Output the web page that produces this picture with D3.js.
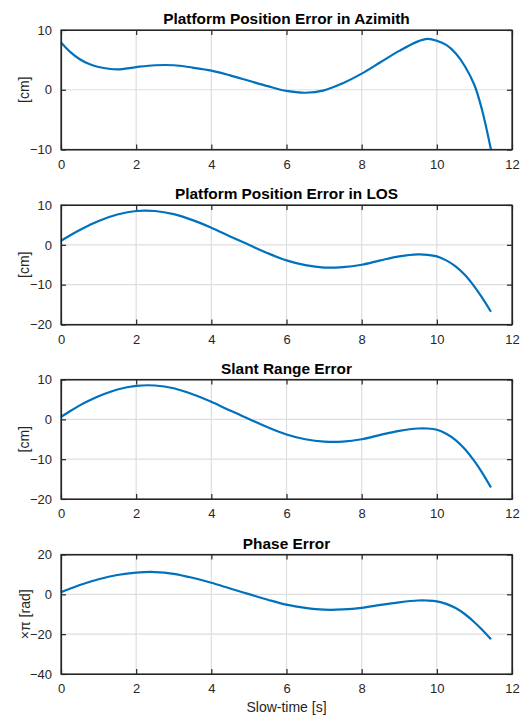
<!DOCTYPE html>
<html>
<head>
<meta charset="utf-8">
<script src="https://cdn.jsdelivr.net/npm/d3@7"></script>
<style>
  html, body { margin: 0; padding: 0; background: #fff; }
  svg { display: block; font-family: "Liberation Sans", Arial, Helvetica, sans-serif; }
</style>
</head>
<body>
<svg id="chart" width="524" height="715"></svg>
<script>
// ---- data ----
const time = [0, 0.25, 0.5, 0.75, 1, 1.5, 2, 2.5, 3, 3.5, 4, 4.5, 5, 5.5, 6, 6.5, 7, 7.5, 8, 8.5, 9, 9.5, 9.75, 10, 10.25, 10.5, 10.75, 11, 11.2, 11.44];
const azimuthError = [7.9, 6.3, 5.1, 4.3, 3.8, 3.4, 3.8, 4.1, 4.1, 3.7, 3.2, 2.4, 1.5, 0.6, -0.2, -0.5, -0.1, 1.1, 2.7, 4.6, 6.5, 8.1, 8.5, 8.2, 7.5, 6.1, 3.9, 0.8, -3.3, -10];
const losError = [1.0, 2.4, 3.7, 4.9, 6.0, 7.6, 8.5, 8.5, 7.7, 6.2, 4.3, 2.1, 0.0, -2.1, -3.9, -5.1, -5.7, -5.6, -5.0, -3.9, -2.9, -2.4, -2.5, -2.9, -3.9, -5.4, -7.6, -10.5, -13.2, -16.8];
const slantError = [0.6, 2.1, 3.5, 4.7, 5.8, 7.5, 8.4, 8.5, 7.8, 6.3, 4.4, 2.2, 0.1, -2.0, -3.8, -5.0, -5.6, -5.6, -5.0, -3.9, -2.9, -2.3, -2.3, -2.6, -3.6, -5.2, -7.5, -10.5, -13.3, -17.1];
const phaseError = [1.0, 2.9, 4.7, 6.2, 7.6, 9.7, 10.9, 11.2, 10.3, 8.3, 5.8, 2.9, 0.1, -2.7, -5.2, -6.8, -7.7, -7.6, -6.8, -5.3, -4.0, -3.1, -3.1, -3.5, -4.8, -6.9, -10.0, -14.0, -17.7, -22.6];

const titles = ["Platform Position Error in Azimith", "Platform Position Error in LOS", "Slant Range Error", "Phase Error"];
const yLabels = ["[cm]", "[cm]", "[cm]", "×π [rad]"];
const yDomains = [[-10, 10], [-20, 10], [-20, 10], [-40, 20]];
const yTickValues = [[-10, 0, 10], [-20, -10, 0, 10], [-20, -10, 0, 10], [-40, -20, 0, 20]];
const xTickValues = [0, 2, 4, 6, 8, 10, 12];
const xLabel = "Slow-time [s]";
const series = [azimuthError, losError, slantError, phaseError];

// ---- layout ----
const svg = d3.select("#chart");
const left = 61, right = 512;
const tops = [30, 205, 379.5, 554.5];
const h = 119.5;
const ink = "#262626";
const gridColor = "#dedede";
const lineColor = "#0072BD";

const x = d3.scaleLinear().domain([0, 12]).range([left, right]);

series.forEach((vals, i) => {
  const top = tops[i];
  const y = d3.scaleLinear().domain(yDomains[i]).range([top + h, top]);
  const g = svg.append("g");

  // grid
  g.selectAll(".vg").data(xTickValues.slice(1, -1)).enter().append("line")
    .attr("x1", d => x(d)).attr("x2", d => x(d))
    .attr("y1", top).attr("y2", top + h)
    .attr("stroke", gridColor).attr("stroke-width", 1.2);
  g.selectAll(".hg").data(yTickValues[i].slice(1, -1)).enter().append("line")
    .attr("x1", left).attr("x2", right)
    .attr("y1", d => y(d)).attr("y2", d => y(d))
    .attr("stroke", gridColor).attr("stroke-width", 1.2);

  // curve
  const pts = time.map((t, k) => [t, vals[k]]);
  g.append("path").datum(pts)
    .attr("fill", "none").attr("stroke", lineColor).attr("stroke-width", 2.2)
    .attr("stroke-linejoin", "round")
    .attr("d", d3.line().x(d => x(d[0])).y(d => y(d[1])).curve(d3.curveCatmullRom.alpha(0.5)));

  // axes (ticks inward)
  const xb = g.append("g").attr("transform", `translate(0,${top + h})`)
    .call(d3.axisBottom(x).tickValues(xTickValues).tickSizeInner(-5).tickSizeOuter(0).tickPadding(10).tickFormat(d3.format("d")));
  const xt = g.append("g").attr("transform", `translate(0,${top})`)
    .call(d3.axisTop(x).tickValues(xTickValues).tickSizeInner(-5).tickSizeOuter(0).tickFormat(""));
  const yl = g.append("g").attr("transform", `translate(${left},0)`)
    .call(d3.axisLeft(y).tickValues(yTickValues[i]).tickSizeInner(-5).tickSizeOuter(0).tickPadding(9).tickFormat(d3.format("d")));
  const yr = g.append("g").attr("transform", `translate(${right},0)`)
    .call(d3.axisRight(y).tickValues(yTickValues[i]).tickSizeInner(-5).tickSizeOuter(0).tickFormat(""));
  [xb, xt, yl, yr].forEach(a => {
    a.select(".domain").attr("stroke", ink).attr("stroke-width", 1.2);
    a.selectAll(".tick line").attr("stroke", ink).attr("stroke-width", 1.2);
    a.selectAll(".tick text").attr("fill", ink).style("font-size", "13px")
      .style("font-family", "'Liberation Sans', Arial, sans-serif");
  });
  // frame
  g.append("rect").attr("x", left).attr("y", top).attr("width", right - left).attr("height", h)
    .attr("fill", "none").attr("stroke", ink).attr("stroke-width", 1.2);

  // title
  g.append("text").attr("x", (left + right) / 2).attr("y", top - 6)
    .attr("text-anchor", "middle").attr("fill", "#000")
    .style("font-size", "15.4px").style("font-weight", "bold")
    .text(titles[i]);

  // y label
  g.append("text")
    .attr("transform", `translate(${i === 3 ? 30 : 29},${top + h / 2}) rotate(-90)`)
    .attr("text-anchor", "middle").attr("fill", ink)
    .style("font-size", "14px")
    .text(yLabels[i]);
});

svg.append("text").attr("x", (left + right) / 2).attr("y", 712)
  .attr("text-anchor", "middle").attr("fill", ink)
  .style("font-size", "14px").text(xLabel);
</script>
</body>
</html>
